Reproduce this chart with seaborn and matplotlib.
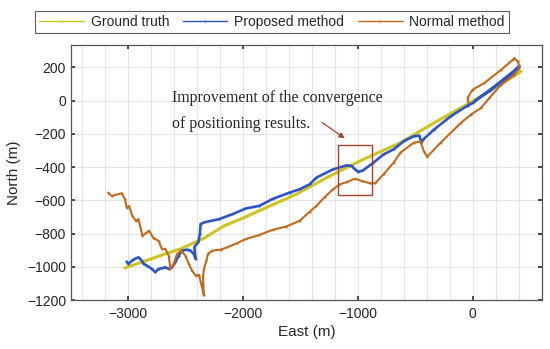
import numpy as np
import pandas as pd
import matplotlib
matplotlib.use("Agg")
import matplotlib.pyplot as plt
import seaborn as sns
from matplotlib.patches import Rectangle
from matplotlib.ticker import MultipleLocator

# ground truth trajectory (east, north) in metres
gt_east = [-3029, -2868, -2722, -2547, -2342, -2167, -1991, -1831, -1538, -1246,
           -954, -632, -339, -46, 246, 421]
gt_north = [-1005, -968, -932, -892, -828, -753, -703, -653, -563, -453,
            -353, -253, -134, -20, 100, 176]

# proposed method
prop_east = [-3015, -3000, -2962, -2912, -2883, -2868, -2839, -2795, -2766, -2737,
             -2708, -2678, -2649, -2620, -2591, -2561, -2532, -2488, -2459, -2430,
             -2415, -2425, -2390, -2377, -2371, -2340, -2211, -2094, -1976, -1860,
             -1743, -1596, -1509, -1421, -1363, -1217, -1099, -1055, -1026, -997,
             -954, -866, -778, -690, -602, -515, -465, -450, -433, -339,
             -193, -46, -3, 100, 250, 350, 406, 395, 300, 150, 20]
prop_north = [-968, -982, -958, -942, -962, -982, -992, -1012, -1032, -1012,
              -1008, -1002, -1012, -1002, -972, -932, -902, -896, -902, -922,
              -952, -880, -850, -800, -742, -732, -713, -683, -648, -633,
              -591, -553, -533, -503, -463, -413, -389, -393, -413, -429,
              -418, -373, -323, -293, -244, -214, -210, -253, -234, -174,
              -94, -30, -14, 40, 120, 175, 210, 190, 140, 60, 0]

# normal method
norm_east = [-3175, -3146, -3059, -3029, -3015, -2994, -2965, -2936, -2912, -2877,
             -2839, -2819, -2781, -2737, -2708, -2678, -2649, -2634, -2605, -2576,
             -2541, -2503, -2474, -2445, -2415, -2386, -2365, -2342, -2350, -2342,
             -2320, -2307, -2269, -2196, -2138, -2050, -1976, -1860, -1743, -1626,
             -1509, -1421, -1363, -1290, -1217, -1158, -1099, -1026, -968, -895,
             -851, -778, -690, -632, -515, -456, -427, -398, -281, -134,
             -105, -18, 70, 143, 246, 362, 406, 392, 362, 348,
             246, 99, -3, -46, -40]
norm_north = [-553, -573, -557, -593, -643, -633, -693, -723, -713, -813,
              -792, -782, -828, -843, -892, -892, -932, -1012, -982, -922,
              -902, -932, -982, -1022, -1052, -1048, -1102, -1172, -1060, -1012,
              -962, -922, -902, -896, -882, -856, -832, -808, -777, -757,
              -723, -668, -633, -580, -533, -503, -490, -469, -483, -497,
              -497, -443, -373, -313, -253, -244, -304, -337, -253, -154,
              -134, -84, -44, 16, 96, 156, 196, 236, 256, 246,
              186, 106, 66, 16, -10]

series_names = ["Ground truth", "Proposed method", "Normal method"]
colors = ["#cdc424", "#2f55c4", "#bf6a1c"]

df = pd.concat([
    pd.DataFrame({"East": gt_east, "North": gt_north, "method": series_names[0]}),
    pd.DataFrame({"East": prop_east, "North": prop_north, "method": series_names[1]}),
    pd.DataFrame({"East": norm_east, "North": norm_north, "method": series_names[2]}),
], ignore_index=True)

sns.set_theme(style="ticks")
plt.rcParams["font.family"] = ["Liberation Sans", "DejaVu Sans"]

fig = plt.figure(figsize=(5.5, 3.49), dpi=100)
ax = fig.add_axes([0.129, 0.140, 0.856, 0.731])

widths = {"Ground truth": 2.2, "Proposed method": 1.9, "Normal method": 1.5}
for name, col in zip(series_names, colors):
    sub = df[df["method"] == name]
    sns.lineplot(data=sub, x="East", y="North", sort=False, estimator=None,
                 color=col, lw=widths[name], marker=".", markersize=3,
                 markeredgewidth=0, label=name, ax=ax, zorder=3)

ax.set_xlim(-3500, 600)
ax.set_ylim(-1200, 335)
ax.xaxis.set_major_locator(MultipleLocator(1000))
ax.xaxis.set_minor_locator(MultipleLocator(200))
ax.yaxis.set_major_locator(MultipleLocator(200))
ax.grid(True, which="both", color="#e4e4e4", lw=0.8)
ax.tick_params(which="major", direction="in", top=True, right=True, length=3,
               labelsize=10, color="#333333")
ax.tick_params(axis="x", which="major", pad=5)
ax.tick_params(which="minor", length=0)
for s in ax.spines.values():
    s.set_color("#555555")
    s.set_linewidth(0.9)
ax.set_xlabel("East (m)", fontsize=11, labelpad=3)
ax.set_ylabel("North (m)", fontsize=11, labelpad=4)

# highlighted region and note
ax.add_patch(Rectangle((-1175, -570), 300, 303, fill=False, ec="#a8402a", lw=1.0, zorder=4))
ax.annotate("", xy=(-1096, -236), xytext=(-1333, -121),
            arrowprops=dict(arrowstyle="-|>", color="#a8402a", lw=0.9,
                            mutation_scale=8))
ax.text(-2623, 18, "Improvement of the convergence", family=["Liberation Serif"],
        fontsize=11.4, va="center", ha="left")
ax.text(-2623, -139, "of positioning results.", family=["Liberation Serif"],
        fontsize=11.4, va="center", ha="left")

leg = ax.legend(loc="center", bbox_to_anchor=(0.427, 1.09), ncol=3, frameon=True,
                fancybox=False, fontsize=10, handlelength=3.2, columnspacing=1.0,
                handletextpad=0.5, borderpad=0.3, edgecolor="#333333")
leg.get_frame().set_linewidth(0.8)
for line in leg.get_lines():
    line.set_linewidth(1.0)

fig.savefig("out.png", dpi=100)
